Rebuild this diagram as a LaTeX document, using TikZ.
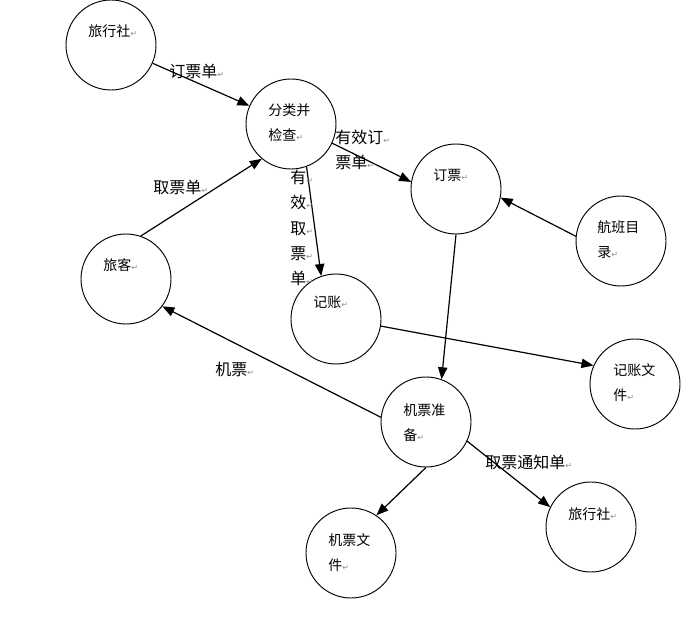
\documentclass[tikz,border=0pt]{standalone}
\usepackage{fontspec}
\newfontfamily\cjk{Noto Sans CJK SC}
\newfontfamily\symf{DejaVu Sans}
\usetikzlibrary{arrows.meta}
\newcommand\retmark{{\symf\fontsize{6}{6}\selectfont\color{black!45}↵}}

\begin{document}
\begin{tikzpicture}[
  x=0.75pt,y=-0.75pt,
  proc/.style={draw,circle,line width=0.7pt,minimum size=67.5pt,inner sep=0pt},
  intxt/.style={font=\cjk\fontsize{10.5}{18.75}\selectfont,align=left,
                anchor=base west,inner sep=0pt},
  lbl/.style={font=\cjk\fontsize{12}{18.75}\selectfont,align=left,
              anchor=base west,inner sep=0pt},
  flow/.style={-{Triangle[length=9pt,width=7pt]},line width=0.9pt}
]
  \useasboundingbox (0,0) rectangle (685,623);
  % processes and stores
  \node[proc] (agent1) at (111,45) {};
  \node[proc] (check) at (291,124) {};
  \node[proc] (book) at (456,189) {};
  \node[proc] (flights) at (621,241) {};
  \node[proc] (pass) at (126,279) {};
  \node[proc] (acct) at (336,319) {};
  \node[proc] (acctfile) at (635,384) {};
  \node[proc] (prep) at (426,422) {};
  \node[proc] (tktfile) at (351,553) {};
  \node[proc] (agent2) at (591,527) {};
  % texts inside the circles (base = last line)
  \node[intxt] (t1) at (88,37) {旅行社\retmark};
  \node[intxt] (t2) at (268,141) {分类并\\检查\retmark};
  \node[intxt] (t3) at (433,181) {订票\retmark};
  \node[intxt] (t4) at (597,258) {航班目\\录\retmark};
  \node[intxt] (t5) at (103,271) {旅客\retmark};
  \node[intxt] (t6) at (313,308) {记账\retmark};
  \node[intxt] (t7) at (613,401) {记账文\\件\retmark};
  \node[intxt] (t8) at (403,440) {机票准\\备\retmark};
  \node[intxt] (t9) at (328,570) {机票文\\件\retmark};
  \node[intxt] (t10) at (568,519) {旅行社\retmark};
  % flows
  \draw[flow] (agent1) -- (check);
  \draw[flow] (pass.71) -- (check.230);
  \draw[flow] (check.-25) -- (book.171);
  \draw[flow] (check.-70) -- (acct.109);
  \draw[flow] (flights.174) -- (book.-11);
  \draw[flow] (book.-90) -- (prep.70);
  \draw[flow] (acct.-9) -- (acctfile.156);
  \draw[flow] (prep.174) -- (pass.-37);
  \draw[flow] (prep.-90) -- (tktfile.56);
  \draw[flow] (prep.-25) -- (agent2.154);
  % flow labels
  \node[lbl] (l1) at (169,78) {订票单\retmark};
  \node[lbl] (l2) at (153,194) {取票单\retmark};
  \node[lbl] (l3) at (335,169) {有效订\retmark\\票单\retmark};
  \node[lbl,font=\cjk\fontsize{12}{19.1}\selectfont] (l4) at (290,285)
    {有\retmark\\效\retmark\\取\retmark\\票\retmark\\单\retmark};
  \node[lbl] (l5) at (215,376) {机票\retmark};
  \node[lbl] (l6) at (485,468) {取票通知单\retmark};
\end{tikzpicture}
\end{document}
